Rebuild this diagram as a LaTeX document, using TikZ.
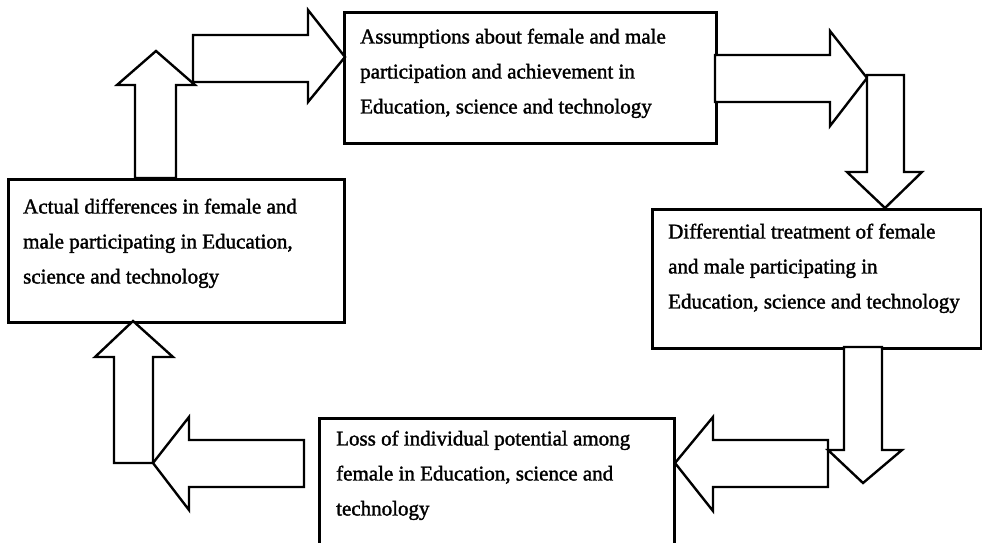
\documentclass[tikz,border=0pt]{standalone}
\usepackage{fontspec}
\setmainfont[AutoFakeBold=1.6]{Liberation Serif}
\usetikzlibrary{positioning}

\begin{document}
\begin{tikzpicture}[
  x=1pt, y=-1pt,
  box/.style={
    draw,
    line width=2.6pt,
    anchor=north west,
    inner sep=0pt,
  },
  txt/.style={
    inner sep=0pt,
    align=left,
    font=\fontsize{21}{35}\selectfont\bfseries,
  },
  barrow/.style={draw, fill=white, line width=2.4pt, line join=miter},
]
  \useasboundingbox (0,0) rectangle (982,543);
  \clip (0,0) rectangle (982,543);

  % -------- boxes --------
  \node[box, minimum width=372pt, minimum height=131pt] (A) at (343,11) {};
  \node[box, minimum width=336pt, minimum height=143pt] (B) at (7,178) {};
  \node[box, minimum width=329pt, minimum height=139pt] (C) at (651,208) {};
  \node[box, minimum width=355pt, minimum height=150pt] (D) at (318,417) {};

  % -------- texts --------
  \node[txt, below right=17.5pt and 17pt of A.north west] (At) {%
    Assumptions about female and male\\
    participation and achievement in\\
    Education, science and technology};
  \node[txt, below right=20.5pt and 16pt of B.north west] (Bt) {%
    Actual differences in female and\\
    male participating in Education,\\
    science and technology};
  \node[txt, below right=15.5pt and 17pt of C.north west] (Ct) {%
    Differential treatment of female\\
    and male participating in\\
    Education, science and technology};
  \node[txt, below right=13.5pt and 18pt of D.north west] (Dt) {%
    Loss of individual potential among\\
    female in Education, science and\\
    technology};

  % -------- block arrows: B -> A --------
  \draw[barrow] (193,82) -- (193,35) -- (308,35) -- (308,10) -- (345,57)
    -- (308,102) -- (308,82) -- cycle;
  \draw[barrow] (135,178) -- (135,85) -- (117,85) -- (156,51) -- (195,85)
    -- (176,85) -- (176,178) -- cycle;

  % -------- block arrows: A -> C --------
  \draw[barrow] (715,55) -- (830,55) -- (830,31) -- (867,78) -- (830,126)
    -- (830,102) -- (715,102) -- cycle;
  \draw[barrow] (867,75) -- (904,75) -- (904,172) -- (922,172) -- (885,208)
    -- (847,172) -- (867,172) -- cycle;

  % -------- block arrows: C -> D --------
  \draw[barrow] (828,440) -- (713,440) -- (713,417) -- (675,463) -- (713,511)
    -- (713,487) -- (828,487) -- cycle;
  \draw[barrow] (844,347) -- (844,450) -- (828,450) -- (863,483) -- (902,450)
    -- (882,450) -- (882,347) -- cycle;

  % -------- block arrows: D -> B --------
  \draw[barrow] (304,440) -- (189,440) -- (189,417) -- (153,463) -- (189,510)
    -- (189,487) -- (304,487) -- cycle;
  \draw[barrow] (114,463) -- (114,357) -- (95,357) -- (133,321) -- (173,357)
    -- (153,357) -- (153,463) -- cycle;
\end{tikzpicture}
\end{document}
